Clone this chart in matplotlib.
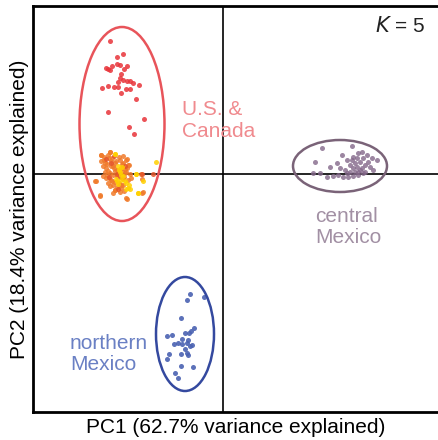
import matplotlib
matplotlib.use("Agg")
import matplotlib.pyplot as plt
from matplotlib.patches import Ellipse

plt.rcParams['font.family'] = ['Liberation Sans', 'DejaVu Sans']

# ---- data (PC scores) ----
red_pc1 = [-1.13, -1.06, -1.00, -1.17, -1.15, -1.13, -1.11, -1.06, -1.03, -0.96, -0.99, -1.02,
           -1.03, -1.05, -1.00, -0.96, -0.93, -0.90, -0.84, -1.21, -1.15, -1.09, -1.05, -0.97,
           -0.93, -1.02, -0.87, -1.15, -0.79, -0.94, -0.89]
red_pc2 = [1.33, 1.17, 1.20, 1.06, 1.05, 1.04, 1.08, 1.10, 1.09, 1.08, 1.05, 1.00,
           0.96, 0.92, 0.94, 0.93, 0.93, 0.91, 0.89, 0.86, 0.88, 0.87, 0.87, 0.85,
           0.85, 0.81, 0.75, 0.62, 0.55, 0.47, 0.40]

orange_pc1 = [-1.22, -1.19, -1.13, -1.14, -1.22, -1.18, -1.12, -1.08, -1.03, -1.00, -0.97, -0.95,
              -1.20, -1.17, -1.10, -1.02, -0.98, -1.15, -1.08, -0.98, -0.93, -0.82, -1.20, -1.17,
              -1.12, -0.95, -0.92, -1.15, -1.10, -1.00, -1.08, -1.02, -1.23, -0.80, -0.97, -1.28,
              -1.23, -0.96, -0.81, -0.81, -1.27, -1.13, -1.00, -0.96, -1.22, -0.94, -1.03, -1.08,
              -1.16, -1.12, -1.09, -1.06, -1.13, -1.10, -1.06, -1.04, -1.01, -0.99, -1.14, -1.11,
              -1.08, -1.04, -1.00, -0.97, -1.18, -1.16, -1.07, -1.11, -1.04, -1.19, -1.15, -1.01,
              -0.96, -1.13, -1.06, -1.02, -0.99, -1.10]
orange_pc2 = [0.19, 0.17, 0.22, 0.16, 0.13, 0.11, 0.13, 0.11, 0.14, 0.11, 0.14, 0.09,
              0.08, 0.06, 0.08, 0.06, 0.05, 0.03, 0.03, 0.01, 0.00, 0.00, -0.02, -0.04,
              -0.06, -0.06, -0.04, -0.09, -0.11, -0.11, -0.16, -0.14, -0.21, -0.18, -0.24, -0.07,
              -0.22, -0.25, -0.19, -0.05, -0.07, 0.22, 0.18, 0.15, 0.19, 0.09, -0.18, -0.16,
              0.10, 0.08, 0.06, 0.04, 0.01, -0.01, -0.02, 0.01, 0.03, -0.03, -0.04, -0.07,
              -0.08, -0.09, -0.05, 0.02, 0.02, -0.01, 0.13, 0.16, 0.17, 0.14, 0.19, 0.10,
              0.06, -0.12, -0.13, -0.11, -0.17, -0.19]

redorange_pc1 = [-0.70, -1.17, -1.12, -1.06, -1.14, -1.03, -1.09, -0.98, -1.05, -0.81]
redorange_pc2 = [0.00, 0.15, 0.11, 0.00, -0.03, -0.03, 0.18, 0.08, -0.15, 0.00]

yellow_pc1 = [-1.08, -1.05, -1.03, -1.02, -0.87, -0.67, -1.07, -1.02, -0.98, -0.80, -1.05, -0.95,
              -0.85, -0.85, -1.08, -0.87, -0.97, -0.93, -1.04, -1.00, -0.97, -1.06, -1.01, -0.94]
yellow_pc2 = [0.20, 0.08, 0.02, -0.01, 0.00, 0.12, -0.05, -0.06, -0.07, -0.07, -0.10, -0.14,
              -0.19, -0.19, 0.20, 0.00, -0.15, -0.15, 0.04, -0.02, -0.09, -0.07, 0.07, -0.11]

central_pc1 = [0.99, 1.29, 1.19, 0.92, 1.07, 1.14, 1.24, 1.30, 1.35, 1.39, 1.44, 1.49, 1.54,
               1.27, 1.32, 1.37, 1.42, 1.47, 1.50, 1.22, 1.27, 1.32, 1.37, 1.42, 0.90, 0.97,
               1.04, 1.10, 1.15, 1.20, 1.25, 1.30, 1.35, 1.40, 1.17, 1.30, 1.34, 1.39, 1.35,
               1.24, 1.29, 1.34, 1.40, 1.45]
central_pc2 = [0.26, 0.28, 0.19, 0.12, 0.07, 0.11, 0.14, 0.17, 0.21, 0.22, 0.19, 0.16, 0.14,
               0.09, 0.11, 0.12, 0.09, 0.07, 0.04, 0.04, 0.02, 0.02, 0.04, 0.02, 0.01, 0.01,
               -0.03, -0.02, -0.01, -0.03, -0.03, -0.02, -0.01, 0.01, 0.06, 0.06, 0.07, 0.06, 0.02,
               0.01, 0.14, 0.16, 0.16, 0.12]

northern_pc1 = [-0.33, -0.19, -0.36, -0.42, -0.29, -0.32, -0.38, -0.34, -0.56, -0.51, -0.41,
                -0.49, -0.45, -0.41, -0.36, -0.33, -0.31, -0.38, -0.36, -0.54, -0.42, -0.35,
                -0.56, -0.42, -0.30, -0.48, -0.45, -0.35]
northern_pc2 = [-1.20, -1.23, -1.26, -1.44, -1.54, -1.57, -1.59, -1.59, -1.62, -1.61, -1.65,
                -1.70, -1.69, -1.70, -1.69, -1.72, -1.71, -1.75, -1.79, -1.80, -1.80, -1.81,
                -1.85, -1.92, -1.93, -1.99, -2.04, -1.66]

# ellipses: (center x, center y, width, height)
ell_us = (-1.01, 0.50, 0.85, 1.94)
ell_central = (1.17, 0.08, 0.94, 0.52)
ell_northern = (-0.38, -1.60, 0.58, 1.14)

x_label = "PC1 (62.7% variance explained)"
y_label = "PC2 (18.4% variance explained)"

# ---- figure ----
fig = plt.figure(figsize=(4.38, 4.40), dpi=100)
ax = fig.add_axes([33/438, 1 - 412/440, 1 - 33/438, (412 - 6)/440])
ax.set_xlim(-1.90, 2.15)
ax.set_ylim(-2.38, 1.68)

ax.axhline(0, color='black', lw=1.2, zorder=1)
ax.axvline(0, color='black', lw=1.2, zorder=1)

s = 13
ax.scatter(red_pc1, red_pc2, s=s, color='#e8343a', alpha=0.85, lw=0, zorder=3)
ax.scatter(orange_pc1, orange_pc2, s=s, color='#f07a2a', alpha=0.85, lw=0, zorder=3)
ax.scatter(redorange_pc1, redorange_pc2, s=s, color='#e4552a', alpha=0.85, lw=0, zorder=3)
ax.scatter(yellow_pc1, yellow_pc2, s=s, color='#ffd000', alpha=0.85, lw=0, zorder=4)
ax.scatter(central_pc1, central_pc2, s=s, color='#84688a', alpha=0.8, lw=0, zorder=3)
ax.scatter(northern_pc1, northern_pc2, s=s, color='#4a62b2', alpha=0.9, lw=0, zorder=3)

for (cx, cy, w, h), col in [(ell_us, '#e8545a'), (ell_central, '#7a6378'), (ell_northern, '#34499f')]:
    ax.add_patch(Ellipse((cx, cy), w, h, fill=False, edgecolor=col, lw=1.8, zorder=5))

fs = 15
ax.text(-0.41, 0.535, "U.S. &\nCanada", color='#f08a8e', fontsize=fs, ha='left', va='center',
        linespacing=1.15)
ax.text(0.92, -0.53, "central\nMexico", color='#a290a4', fontsize=fs, ha='left', va='center',
        linespacing=1.15)
ax.text(-1.53, -1.80, "northern\nMexico", color='#6a80c4', fontsize=fs, ha='left', va='center',
        linespacing=1.15)
ax.text(2.02, 1.48, r"$\it{K}$ = 5", color='#222222', fontsize=fs, ha='right', va='center')

ax.set_xticks([])
ax.set_yticks([])
for side in ['left', 'bottom', 'top']:
    ax.spines[side].set_linewidth(2.0)
ax.spines['right'].set_visible(False)

ax.set_xlabel(x_label, fontsize=15, labelpad=4)
ax.set_ylabel(y_label, fontsize=15, labelpad=3)

fig.savefig("out.png", dpi=100)
